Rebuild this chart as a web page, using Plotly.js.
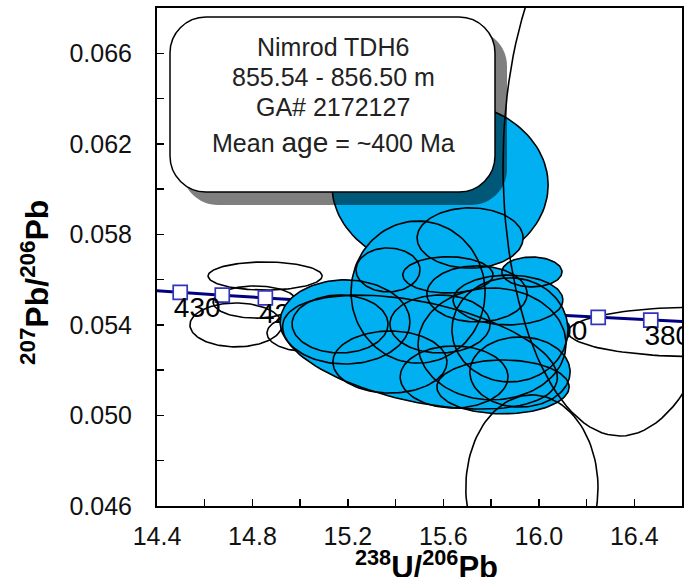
<!DOCTYPE html>
<html><head><meta charset="utf-8">
<script src="https://cdn.plot.ly/plotly-3.0.1.min.js"></script>
<style>html,body{margin:0;padding:0;background:#fff}#chart{width:692px;height:577px}</style>
</head><body><div id="chart"></div>
<script>
// ---------- DATA ----------
const xTickVals = [14.4,14.6,14.8,15.0,15.2,15.4,15.6,15.8,16.0,16.2,16.4,16.6];
const xTickText = ['14.4','','14.8','','15.2','','15.6','','16.0','','16.4',''];
const yTickVals = [0.046,0.048,0.050,0.052,0.054,0.056,0.058,0.060,0.062,0.064,0.066,0.068];
const yTickText = ['0.046','','0.050','','0.054','','0.058','','0.062','','0.066',''];

// concordia ages (Ma)
const lineAges = [375,380,385,390,395,400,405,410,415,420,425,430,435];
const markerAges = [380,385,390,395,400,405,410,415,420,425,430];
const labelAges = [380,390,400,410,420,430];

// open (unfilled) ellipses lying under the data cluster
const openX = [14.853,14.811,14.731,15.020,16.675];
const openY = [0.05616,0.05501,0.05400,0.05364,0.05369];
const openA = [0.239,0.176,0.193,0.159,0.553];
const openB = [0.00062,0.00071,0.00097,0.00080,0.00110];

// large filled ellipse at the top
const bigX = [15.586], bigY = [0.06018], bigA = [0.453], bigB = [0.00376];

// filled ellipses of the main cluster
const fillX = [15.502,15.850,15.645,15.376,15.188,15.167,15.879,15.921,15.804,15.494,15.368,15.619,15.741,15.586,15.971,15.712,15.871];
const fillY = [0.05280,0.05126,0.05170,0.05236,0.05413,0.05404,0.05378,0.05192,0.05316,0.05545,0.05643,0.05621,0.05537,0.05404,0.05634,0.05784,0.05510];
const fillA = [0.587,0.277,0.226,0.239,0.272,0.201,0.243,0.210,0.310,0.281,0.134,0.189,0.210,0.210,0.126,0.222,0.230];
const fillB = [0.00221,0.00119,0.00137,0.00137,0.00186,0.00128,0.00230,0.00155,0.00247,0.00314,0.00097,0.00080,0.00124,0.00128,0.00066,0.00133,0.00110];
const fillRot = [12,0,0,0,0,0,0,0,0,0,0,0,0,0,0,0,0];

// open ellipses drawn over the cluster
const overX = [15.971,16.340];
const overY = [0.04680,0.06102];
const overA = [0.277,0.490];
const overB = [0.00411,0.01193];

// ---------- LAYOUT GEOMETRY ----------
const W = 692, H = 577;
const M = {l:157, r:10, t:8, b:71};
const xr = [14.4, 16.6], yr = [0.046, 0.068];
const plotW = W - M.l - M.r, plotH = H - M.t - M.b;
const pxX = plotW / (xr[1]-xr[0]);
const pxY = plotH / (yr[1]-yr[0]);
const X = px => xr[0] + (px - M.l) / pxX;
const Y = py => yr[0] + (M.t + plotH - py) / pxY;
const PX = px => (px - M.l) / plotW;
const PY = py => (M.t + plotH - py) / plotH;

// concordia
const L238 = 1.55125e-4, L235 = 9.8485e-4, U85 = 137.88;
const cx = t => 1/(Math.exp(L238*t)-1);
const cy = t => (Math.exp(L235*t)-1)/(Math.exp(L238*t)-1)/U85;

function ellipse(x0, y0, a, b, rotDeg) {
  const th = (rotDeg||0)*Math.PI/180, xs=[], ys=[];
  for (let i=0;i<=120;i++){
    const t = 2*Math.PI*i/120;
    const dx = a*pxX*Math.cos(t), dy = b*pxY*Math.sin(t);
    const rx = dx*Math.cos(th) - dy*Math.sin(th);
    const ry = dx*Math.sin(th) + dy*Math.cos(th);
    xs.push(x0 + rx/pxX); ys.push(y0 - ry/pxY);
  }
  return {xs, ys};
}

const traces = [];
const outline = {color:'#000', width:1.6};
const BLUE = '#00B0F0';

openX.forEach((v,i)=>{
  const e = ellipse(v, openY[i], openA[i], openB[i], 0);
  traces.push({x:e.xs, y:e.ys, mode:'lines', line:outline, hoverinfo:'skip', showlegend:false});
});

// concordia line, markers, labels
traces.push({x:lineAges.map(cx), y:lineAges.map(cy), mode:'lines', line:{color:'#000080', width:3}, hoverinfo:'skip', showlegend:false});
traces.push({x:markerAges.map(cx), y:markerAges.map(cy), mode:'markers',
  marker:{symbol:'square', size:14, color:'#fff', line:{color:'#3333bb', width:1.7}}, hoverinfo:'skip', showlegend:false});
const ldx = 17, ldy = 18;
traces.push({x:labelAges.map(t=>cx(t)+ldx/pxX), y:labelAges.map(t=>cy(t)-ldy/pxY), mode:'text',
  text:labelAges.map(String), textposition:'middle center',
  textfont:{family:'Liberation Sans, Arial, sans-serif', size:28, color:'#000'}, hoverinfo:'skip', showlegend:false, cliponaxis:true});

// big top ellipse
bigX.forEach((v,i)=>{
  const e = ellipse(v, bigY[i], bigA[i], bigB[i], 0);
  traces.push({x:e.xs, y:e.ys, mode:'lines', fill:'toself', fillcolor:BLUE, line:outline, hoverinfo:'skip', showlegend:false});
});
// cluster fills then outlines
fillX.forEach((v,i)=>{
  const e = ellipse(v, fillY[i], fillA[i], fillB[i], fillRot[i]);
  traces.push({x:e.xs, y:e.ys, mode:'lines', fill:'toself', fillcolor:BLUE, line:{color:BLUE, width:0.5}, hoverinfo:'skip', showlegend:false});
});
fillX.forEach((v,i)=>{
  const e = ellipse(v, fillY[i], fillA[i], fillB[i], fillRot[i]);
  traces.push({x:e.xs, y:e.ys, mode:'lines', line:outline, hoverinfo:'skip', showlegend:false});
});
overX.forEach((v,i)=>{
  const e = ellipse(v, overY[i], overA[i], overB[i], 0);
  traces.push({x:e.xs, y:e.ys, mode:'lines', line:outline, hoverinfo:'skip', showlegend:false});
});

// rounded box (pixels -> data)
function roundRect(x0,y0,x1,y1,r){
  const k = 0.5523*r;
  const P = (px,py)=> X(px)+','+Y(py);
  return 'M'+P(x0+r,y0)+' L'+P(x1-r,y0)+' C'+P(x1-r+k,y0)+' '+P(x1,y0+r-k)+' '+P(x1,y0+r)+
    ' L'+P(x1,y1-r)+' C'+P(x1,y1-r+k)+' '+P(x1-r+k,y1)+' '+P(x1-r,y1)+
    ' L'+P(x0+r,y1)+' C'+P(x0+r-k,y1)+' '+P(x0,y1-r+k)+' '+P(x0,y1-r)+
    ' L'+P(x0,y0+r)+' C'+P(x0,y0+r-k)+' '+P(x0+r-k,y0)+' '+P(x0+r,y0)+' Z';
}
const shapes = [
  {type:'path', xref:'x', yref:'y', layer:'above', path:roundRect(182,30,507,205,36), fillcolor:'rgba(0,0,0,0.5)', line:{width:0}},
  {type:'path', xref:'x', yref:'y', layer:'above', path:roundRect(170,17,495,192,36), fillcolor:'#fff', line:{color:'#000', width:1.5}}
];

const F = 'Liberation Sans, Arial, sans-serif';
const boxText = ['Nimrod TDH6','855.54 - 856.50 m','GA# 2172127','Mean <span style="font-size:28px">age</span> = ~400 Ma'];
const boxTextY = [47,77,107,142];
const annotations = boxText.map((t,i)=>({xref:'paper', yref:'paper', x:PX(333), y:PY(boxTextY[i]), text:t,
  showarrow:false, xanchor:'center', yanchor:'middle', font:{family:F, size:25, color:'#222'}}));
annotations.push({xref:'paper', yref:'paper', x:PX(426), y:PY(565), text:'<b><sup>238</sup>U/<sup>206</sup>Pb</b>',
  showarrow:false, xanchor:'center', yanchor:'middle', font:{family:F, size:31, color:'#000'}});
annotations.push({xref:'paper', yref:'paper', x:PX(35), y:PY(283), text:'<b><sup>207</sup>Pb/<sup>206</sup>Pb</b>', textangle:-90,
  showarrow:false, xanchor:'center', yanchor:'middle', font:{family:F, size:32, color:'#000'}});

const axisCommon = {showgrid:false, zeroline:false, showline:true, linecolor:'#000', linewidth:2, mirror:true,
  ticks:'inside', ticklen:7, tickwidth:1.5, tickcolor:'#000', tickfont:{family:F, size:25, color:'#111'}};

const layout = {
  width:W, height:H, margin:M, paper_bgcolor:'#fff', plot_bgcolor:'#fff', showlegend:false, hovermode:false,
  xaxis:Object.assign({}, axisCommon, {range:xr, tickmode:'array', tickvals:xTickVals, ticktext:xTickText, ticklabelstandoff:7}),
  yaxis:Object.assign({}, axisCommon, {range:yr, tickmode:'array', tickvals:yTickVals, ticktext:yTickText, ticklabelstandoff:18}),
  shapes, annotations
};
Plotly.newPlot('chart', traces, layout, {staticPlot:true, displayModeBar:false});
</script></body></html>
